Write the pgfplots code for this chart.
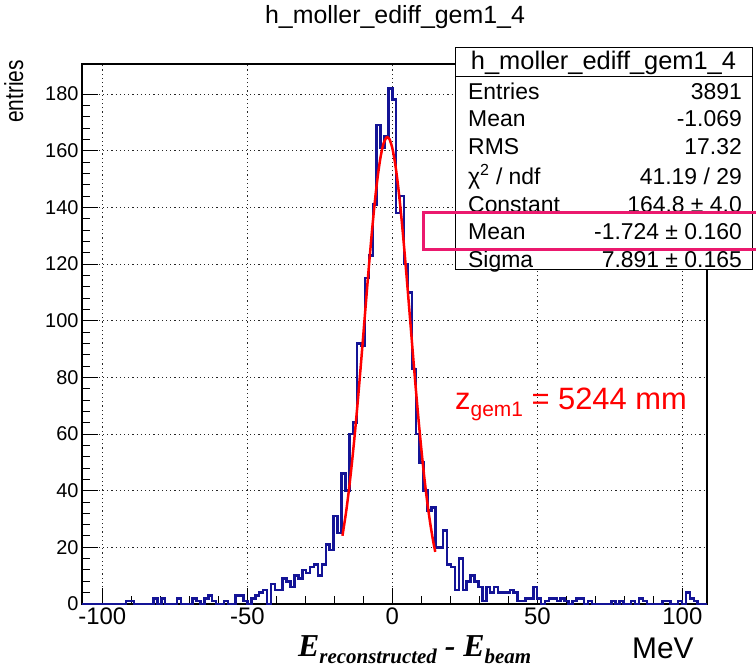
\documentclass[border=0pt]{standalone}
\usepackage{pgfplots}
\pgfplotsset{compat=1.18}
\usepackage{pgfplotstable}
\usepackage{fontspec}
\setmainfont{Liberation Sans}
\newfontfamily\timesfont{Liberation Serif}
\definecolor{histblue}{RGB}{20,20,150}
\definecolor{boxmag}{RGB}{235,25,110}

\pgfplotstableread{
x y
-107 0
-106.65 0
-105.3 0
-103.95 0
-102.6 0
-101.25 0
-99.9 0
-98.55 0
-97.2 0
-95.85 0
-94.5 0
-93.15 0
-91.8 1
-90.45 1
-89.1 0
-87.75 0
-86.4 0
-85.05 0
-83.7 0
-82.35 2
-81 0
-79.65 2
-78.3 0
-76.95 0
-75.6 0
-74.25 2
-72.9 0
-71.55 0
-70.2 0
-68.85 2
-67.5 1
-66.15 0
-64.8 2
-63.45 3
-62.1 1
-60.75 0
-59.4 0
-58.05 1
-56.7 0
-55.35 0
-54 3
-52.65 3
-51.3 1
-49.95 0
-48.6 2
-47.25 3
-45.9 4
-44.55 5
-43.2 0
-41.85 7
-40.5 5
-39.15 5
-37.8 9
-36.45 8
-35.1 6
-33.75 10
-32.4 9
-31.05 12
-29.7 11
-28.35 13
-27 14
-25.65 10
-24.3 14
-22.95 21
-21.6 19
-20.25 31
-18.9 25
-17.55 46
-16.2 40
-14.85 60
-13.5 64
-12.15 92
-10.8 91
-9.45 115
-8.1 123
-6.75 141
-5.4 169
-4.05 161
-2.7 165
-1.35 182
0 178
1.35 138
2.7 144
4.05 120
5.4 110
6.75 83
8.1 60
9.45 50
10.8 40
12.15 33
13.5 34
14.85 20
16.2 20
17.55 26
18.9 14
20.25 13
21.6 5
22.95 16
24.3 5
25.65 8
27 10
28.35 8
29.7 6
31.05 1
32.4 6
33.75 4
35.1 6
36.45 4
37.8 4
39.15 4
40.5 5
41.85 4
43.2 1
44.55 1
45.9 2
47.25 2
48.6 6
49.95 2
51.3 0
52.65 1
54 2
55.35 2
56.7 1
58.05 2
59.4 1
60.75 0
62.1 1
63.45 2
64.8 2
66.15 0
67.5 1
68.85 0
70.2 0
71.55 0
72.9 0
74.25 0
75.6 1
76.95 0
78.3 1
79.65 0
81 0
82.35 1
83.7 0
85.05 2
86.4 1
87.75 0
89.1 0
90.45 0
91.8 0
93.15 1
94.5 1
95.85 0
97.2 0
98.55 1
99.9 0
101.25 4
102.6 2
103.95 1
105.3 0
106.65 0
108 0
108.5 0
}\histdata

\pgfplotstableread{
x y
-17.2 24.08
-16 32.07
-15 40.01
-14 49.14
-13 59.36
-12 70.58
-11 82.58
-10 95.07
-9 107.73
-8 120.11
-7 131.79
-6 142.31
-5 151.19
-4 158.09
-3 162.66
-2 164.70
-1.724 164.8
-1 164.11
0 160.91
1 155.26
2 147.43
3 137.76
4 126.68
5 114.63
6 102.08
7 89.44
8 77.13
9 65.46
10 54.66
11 44.91
12 36.32
13 28.91
14 22.63
14.8 18.39
}\fitdata

\begin{document}
\begin{tikzpicture}[x=1bp,y=1bp]
\useasboundingbox (0,0) rectangle (756,669);
\begin{axis}[
  at={(82bp,65bp)}, anchor=south west,
  scale only axis, width=625bp, height=540bp,
  xmin=-107, xmax=108.5, ymin=0, ymax=190.6,
  axis line style={line width=1.5bp},
  xtick={-100,-50,0,50,100}, minor x tick num=4,
  ytick={0,20,...,180}, minor y tick num=4,
  tick align=inside, xtick pos=lower, ytick pos=left,
  major tick length=16bp, minor tick length=8bp,
  every tick/.style={line width=1bp, black},
  grid=major, major grid style={dash pattern=on 1.2bp off 3bp, line width=1bp, black!85},
  /pgf/number format/assume math mode=true,
  xticklabel style={font=\fontsize{24}{24}\selectfont},
  yticklabel style={font=\fontsize{20}{20}\selectfont},
  clip=false,
]
\addplot[histblue, line width=2.5bp, const plot mark left] table {\histdata};
\addplot[red, line width=2.5bp, smooth] table {\fitdata};
\end{axis}
% title
\node[anchor=base] at (395,669-24) {\fontsize{25}{25}\selectfont h\_moller\_ediff\_gem1\_4};
% y label
\node[rotate=90, anchor=base east, inner sep=0pt] at (23,669-60) {\scalebox{1}[1.25]{\fontsize{21}{21}\selectfont entries}};
% x label
\node[anchor=base west, inner sep=0pt] at (298,669-657) {\timesfont\bfseries\itshape\fontsize{32}{32}\selectfont E\raisebox{-7bp}{\fontsize{21}{21}\selectfont reconstructed} - E\raisebox{-7bp}{\fontsize{21}{21}\selectfont beam}};
\node[anchor=base west, inner sep=0pt] at (632,669-659) {\fontsize{30}{30}\selectfont MeV};
% red label
\node[anchor=base west, inner sep=0pt, text=red] at (455,669-410) {\fontsize{31}{31}\selectfont z\raisebox{-7bp}{\fontsize{21}{21}\selectfont gem1} = 5244 mm};
% stats box
\draw[line width=1bp, fill=white] (455,669-48) rectangle (752,669-270);
\draw[line width=1bp] (455,669-77) -- (752,669-77);
\node[anchor=base] at (603.5,669-70) {\fontsize{25.5}{25.5}\selectfont h\_moller\_ediff\_gem1\_4};
\begin{scope}[every node/.style={inner sep=0pt, font=\fontsize{23}{23}\selectfont}]
\node[anchor=base west] at (468,669-100) {Entries};
\node[anchor=base east] at (742,669-100) {3891};
\node[anchor=base west] at (468,669-127) {Mean};
\node[anchor=base east] at (742,669-127) {-1.069};
\node[anchor=base west] at (468,669-155) {RMS};
\node[anchor=base east] at (742,669-155) {17.32};
\node[anchor=base west] at (468,669-185) {χ\textsuperscript{2} / ndf};
\node[anchor=base east] at (742,669-185) {41.19 / 29};
\node[anchor=base west] at (468,669-213) {Constant};
\node[anchor=base east] at (742,669-213) {164.8 ± 4.0};
\node[anchor=base west] at (468,669-240) {Mean};
\node[anchor=base east] at (742,669-240) {-1.724 ± 0.160};
\node[anchor=base west] at (468,669-268) {Sigma};
\node[anchor=base east] at (742,669-268) {7.891 ± 0.165};
\end{scope}
\draw[boxmag, line width=3bp] (423,669-213) rectangle (762,669-250);
\end{tikzpicture}
\end{document}
